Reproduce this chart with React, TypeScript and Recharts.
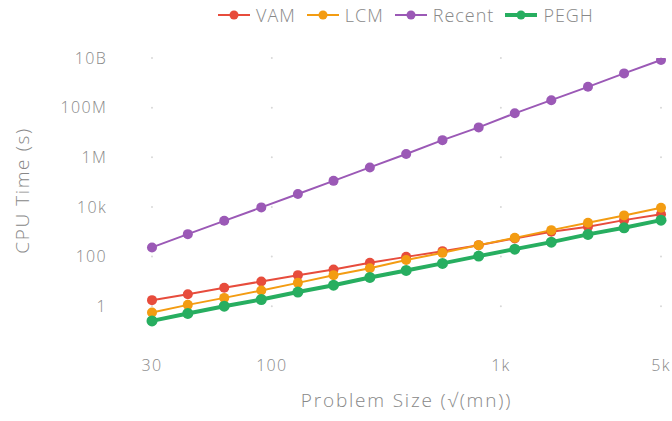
import { LineChart, Line, XAxis, YAxis, Legend, ReferenceDot } from 'recharts'

const sizes = [30, 43, 62, 90, 130, 186, 268, 386, 556, 800, 1150, 1660, 2400, 3450, 5000]
const vam = [1.75, 3.05, 5.5, 9.9, 17.8, 30, 56, 97, 165, 288, 537, 990, 1580, 2930, 5100]
const lcm = [0.56, 1.13, 2.16, 4.3, 8.7, 17.8, 34, 72, 141, 288, 566, 1160, 2290, 4550, 9200]
const recent = [233, 800, 2750, 9550, 3.3e4, 1.12e5, 3.9e5, 1.35e6, 4.9e6, 1.6e7, 5.9e7, 2.0e8, 6.9e8, 2.4e9, 8.3e9]
const pegh = [0.255, 0.51, 1.0, 1.86, 3.7, 7.0, 14.4, 27.5, 53, 104, 199, 380, 780, 1440, 2930]

const xTicks = [30, 100, 1000, 5000]
const xTickLabels = ['30', '100', '1k', '5k']
const yTicks = [1, 100, 1e4, 1e6, 1e8, 1e10]
const yTickLabels = ['1', '100', '10k', '1M', '100M', '10B']

const series = [
  { key: 'VAM', color: '#e74c3c', width: 2, r: 5 },
  { key: 'LCM', color: '#f39c12', width: 2, r: 5 },
  { key: 'Recent', color: '#9b59b6', width: 2, r: 5 },
  { key: 'PEGH', color: '#27ae60', width: 4, r: 5.5 },
]

const data = sizes.map((n, i) => ({ n, VAM: vam[i], LCM: lcm[i], Recent: recent[i], PEGH: pegh[i] }))

const font = '"Open Sans", Roboto, sans-serif'
const grey = '#888'

function MyLegend() {
  return (
    <div style={{ height: 58, boxSizing: 'border-box', paddingLeft: 218, paddingTop: 5, display: 'flex', alignItems: 'flex-start', fontFamily: font, fontSize: 18, letterSpacing: 1, color: grey, fontWeight: 300 }}>
      {series.map(s => (
        <div key={s.key} style={{ display: 'flex', alignItems: 'center', marginRight: 11, height: 20 }}>
          <svg width={32} height={12} style={{ marginRight: 6 }}>
            <line x1={0} y1={6} x2={32} y2={6} stroke={s.color} strokeWidth={s.width} />
            <circle cx={16} cy={6} r={4.5} fill={s.color} />
          </svg>
          <span>{s.key}</span>
        </div>
      ))}
    </div>
  )
}

export default function App() {
  const tickStyle = { fontSize: 16, fill: grey, fontFamily: font, letterSpacing: 1.3, fontWeight: 300 }
  return (
    <div style={{ position: 'absolute', left: 0, top: 0 }}>
      <LineChart width={672} height={421} data={data} margin={{ top: 0, right: 11, left: 0, bottom: 0 }}>
        <Legend verticalAlign="top" content={() => <MyLegend />} />
        <XAxis dataKey="n" type="number" scale="log" domain={[30, 5000]} ticks={xTicks}
          tickFormatter={(v: number) => xTickLabels[xTicks.indexOf(v)] ?? String(v)}
          axisLine={false} tickLine={false} tickMargin={23} height={90} tick={tickStyle}
          label={{ value: 'Problem Size (√(mn))', position: 'insideBottom', offset: 14, style: { fontSize: 19, fill: grey, fontFamily: font, letterSpacing: 1.8, fontWeight: 300 } }} />
        <YAxis type="number" scale="log" domain={[0.1, 1e10]} ticks={yTicks} allowDataOverflow
          tickFormatter={(v: number) => yTickLabels[yTicks.indexOf(v)] ?? String(v)}
          axisLine={false} tickLine={false} tickMargin={39} width={152} tick={tickStyle}
          label={{ value: 'CPU Time (s)', angle: -90, position: 'insideLeft', offset: 22, dy: -4, style: { textAnchor: 'middle', fontSize: 19, fill: grey, fontFamily: font, letterSpacing: 1.6, fontWeight: 300 } }} />
        {xTicks.map(xt => yTicks.map(yt => (
          <ReferenceDot key={xt + '-' + yt} x={xt} y={yt} r={1} fill="#d8d8d8" stroke="none" />
        )))}
        {series.map(s => (
          <Line key={s.key} dataKey={s.key} type="linear" stroke={s.color} strokeWidth={s.width}
            dot={{ r: s.r, fill: s.color, stroke: 'none' }} activeDot={false} isAnimationActive={false} />
        ))}
      </LineChart>
    </div>
  )
}
